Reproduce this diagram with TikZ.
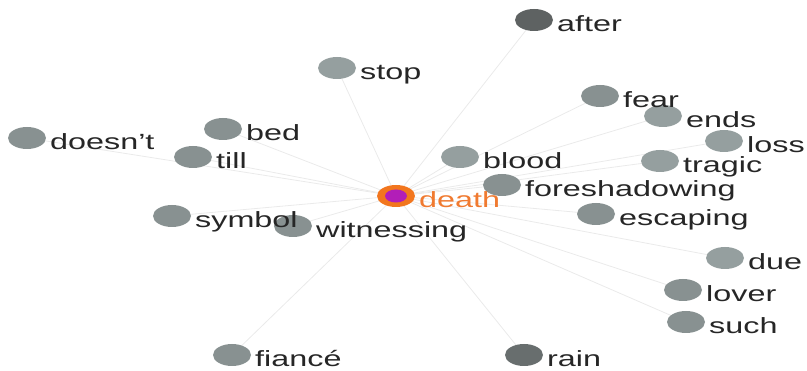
\documentclass[tikz,border=0pt]{standalone}
\usepackage{fontspec}
\setmainfont{Liberation Sans}[FakeStretch=1.47]
\usetikzlibrary{shapes.geometric,backgrounds}
\pgfdeclarelayer{dots}
\pgfsetlayers{background,dots,main}
\definecolor{dotlight}{HTML}{959F9F}
\definecolor{dotmid}{HTML}{889191}
\definecolor{dotdark}{HTML}{5E6262}
\definecolor{linkgrey}{HTML}{EAEAEA}
\definecolor{hubring}{HTML}{F2761E}
\definecolor{hubcore}{HTML}{B21EB8}
\definecolor{hubtext}{HTML}{F07A30}
\tikzset{
  dot/.style={ellipse, fill=#1, minimum width=38pt, minimum height=22pt, inner sep=0pt},
  word/.style={anchor=base west, inner sep=0pt, font=\fontsize{22}{24}\selectfont, text=black!85},
  link/.style={draw=linkgrey, line width=0.8pt},
}
% a term: its dot sits below every label, its label to the right
\newcommand{\term}[4]{%
  \begin{pgfonlayer}{dots}
    \node[dot=#3] (#1) at (#2) {};
  \end{pgfonlayer}
  \node[word] (#1-t) at ([xshift=23pt,yshift=-12pt]#1.center) {#4};
}
\begin{document}
\begin{tikzpicture}[x=1pt,y=-1pt]
\useasboundingbox (0,0) rectangle (807,371);
% hub
\begin{pgfonlayer}{dots}
\node[ellipse, fill=hubring, minimum width=38pt, minimum height=22pt, inner sep=0pt] (death) at (396,196) {};
\node[ellipse, fill=hubcore, minimum width=22pt, minimum height=13pt, inner sep=0pt] (death-core) at (death.center) {};
\end{pgfonlayer}
\node[word, text=hubtext] (death-t) at ([xshift=23pt,yshift=-12pt]death.center) {death};
% associated terms
\term{after}{534,20}{dotdark}{after}
\term{stop}{337,68}{dotlight}{stop}
\term{fear}{600,96}{dotmid}{fear}
\term{ends}{663,116}{dotlight}{ends}
\term{loss}{724,141}{dotlight}{loss}
\term{doesnt}{27,138}{dotmid}{doesn’t}
\term{bed}{223,129}{dotmid}{bed}
\term{till}{193,157}{dotmid}{till}
\term{blood}{460,157}{dotlight}{blood}
\term{tragic}{660,161}{dotlight}{tragic}
\term{fore}{502,185}{dotmid}{foreshadowing}
\term{escaping}{596,214}{dotmid}{escaping}
\term{symbol}{172,216}{dotmid}{symbol}
\term{witnessing}{293,226}{dotmid}{witnessing}
\term{due}{725,258}{dotlight}{due}
\term{lover}{683,290}{dotmid}{lover}
\term{such}{686,322}{dotmid}{such}
\term{fiance}{232,355}{dotmid}{fiancé}
\term{rain}{524,355}{dotdark!75!dotmid}{rain}
% links from the hub
\begin{scope}[on background layer]
\foreach \n in {after,stop,fear,ends,loss,doesnt,bed,till,blood,tragic,fore,escaping,symbol,witnessing,due,lover,such,fiance,rain}
  \draw[link] (death.center) -- (\n.center);
\end{scope}
\end{tikzpicture}
\end{document}
